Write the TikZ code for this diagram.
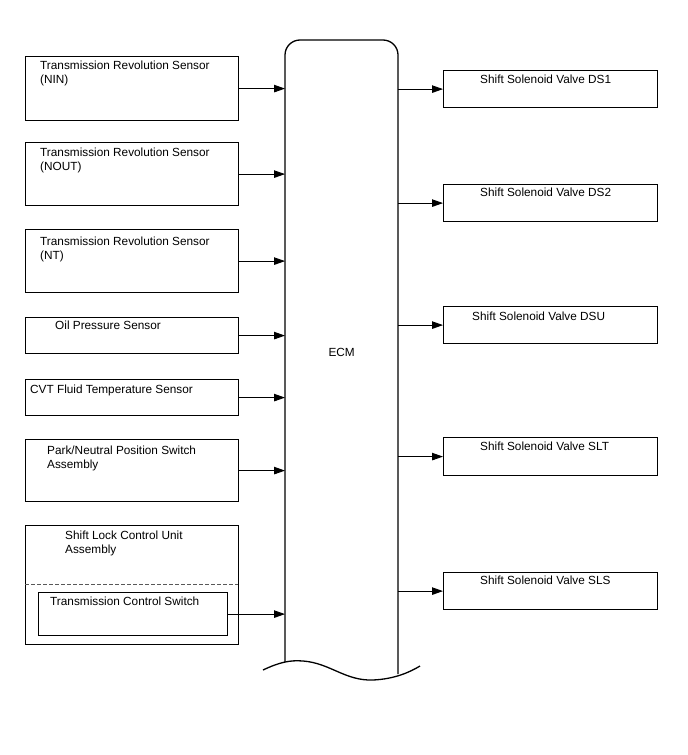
\documentclass[tikz,border=0pt]{standalone}
\usepackage{fontspec}
\setmainfont{Liberation Sans}
\usetikzlibrary{arrows.meta}

\begin{document}
\begin{tikzpicture}[x=1pt, y=-1pt,
        box/.style={draw, line width=1.2pt, inner sep=0pt, anchor=north west},
        lbl/.style={inner sep=0pt, anchor=base west, align=left, font=\fontsize{11.8}{14}\selectfont},
        arw/.style={line width=0.9pt, -{Triangle[length=11pt, width=7.5pt]}}]
        % Fixed page size
        \useasboundingbox (0,0) rectangle (688,755);

        % Input boxes (left column)
        \node[box, minimum width=213pt, minimum height=64pt] (nin) at (25,56) {};
        \node[box, minimum width=213pt, minimum height=63pt] (nout) at (25,142) {};
        \node[box, minimum width=213pt, minimum height=63pt] (nt) at (25,229) {};
        \node[box, minimum width=213pt, minimum height=36pt] (oil) at (25,317) {};
        \node[box, minimum width=213pt, minimum height=36pt] (cvt) at (25,379) {};
        \node[box, minimum width=213pt, minimum height=62pt] (pnp) at (25,439) {};
        \node[box, minimum width=213pt, minimum height=119pt] (slcu) at (25,525) {};
        \node[box, minimum width=189pt, minimum height=43pt] (tcs) at (38,592) {};

        % Divider inside the shift lock unit
        \draw[gray!70!black, line width=0.9pt, dash pattern=on 4pt off 2pt] (25,584) -- (238,584);

        % Labels of the inputs (base = last line)
        \node[lbl] (ninT) at (40,83) {Transmission Revolution Sensor\\(NIN)};
        \node[lbl] (noutT) at (40,170) {Transmission Revolution Sensor\\(NOUT)};
        \node[lbl] (ntT) at (40,259) {Transmission Revolution Sensor\\(NT)};
        \node[lbl] (oilT) at (55,329) {Oil Pressure Sensor};
        \node[lbl] (cvtT) at (30,393) {CVT Fluid Temperature Sensor};
        \node[lbl] (pnpT) at (47,468) {Park/Neutral Position Switch\\Assembly};
        \node[lbl] (slcuT) at (65,553) {Shift Lock Control Unit\\Assembly};
        \node[lbl] (tcsT) at (50,605) {Transmission Control Switch};

        % ECM with a broken-off bottom
        \node[inner sep=0pt, minimum width=113pt, minimum height=624pt, anchor=north west,
              font=\fontsize{11.8}{14}\selectfont] (ecm) at (285,40) {ECM};
        \draw[line width=1.3pt, rounded corners=15pt] (285,662) -- (285,40) -- (398,40) -- (398,674);
        \draw[line width=1.3pt] (263,670) .. controls (280,662) and (290,660) .. (303,661)
              .. controls (330,663) and (345,681) .. (373,680)
              .. controls (395,679) and (410,672) .. (420,666);

        % Output boxes (right column)
        \node[box, minimum width=214pt, minimum height=37pt] (ds1) at (443,70) {};
        \node[box, minimum width=214pt, minimum height=37pt] (ds2) at (443,184) {};
        \node[box, minimum width=214pt, minimum height=37pt] (dsu) at (443,306) {};
        \node[box, minimum width=214pt, minimum height=38pt] (slt) at (443,437) {};
        \node[box, minimum width=214pt, minimum height=37pt] (sls) at (443,572) {};

        % Labels of the outputs
        \node[lbl] (ds1T) at (480,83) {Shift Solenoid Valve DS1};
        \node[lbl] (ds2T) at (480,196) {Shift Solenoid Valve DS2};
        \node[lbl] (dsuT) at (472,320) {Shift Solenoid Valve DSU};
        \node[lbl] (sltT) at (480,450) {Shift Solenoid Valve SLT};
        \node[lbl] (slsT) at (480,584) {Shift Solenoid Valve SLS};

        % Signals into the ECM
        \foreach \src in {nin,nout,nt,oil,cvt,pnp,tcs}
            \draw[arw] (\src.east) -- (\src.east -| ecm.west);

        % Signals out of the ECM
        \foreach \dst in {ds1,ds2,dsu,slt,sls}
            \draw[arw] (\dst.west -| ecm.east) -- (\dst.west);
\end{tikzpicture}
\end{document}
